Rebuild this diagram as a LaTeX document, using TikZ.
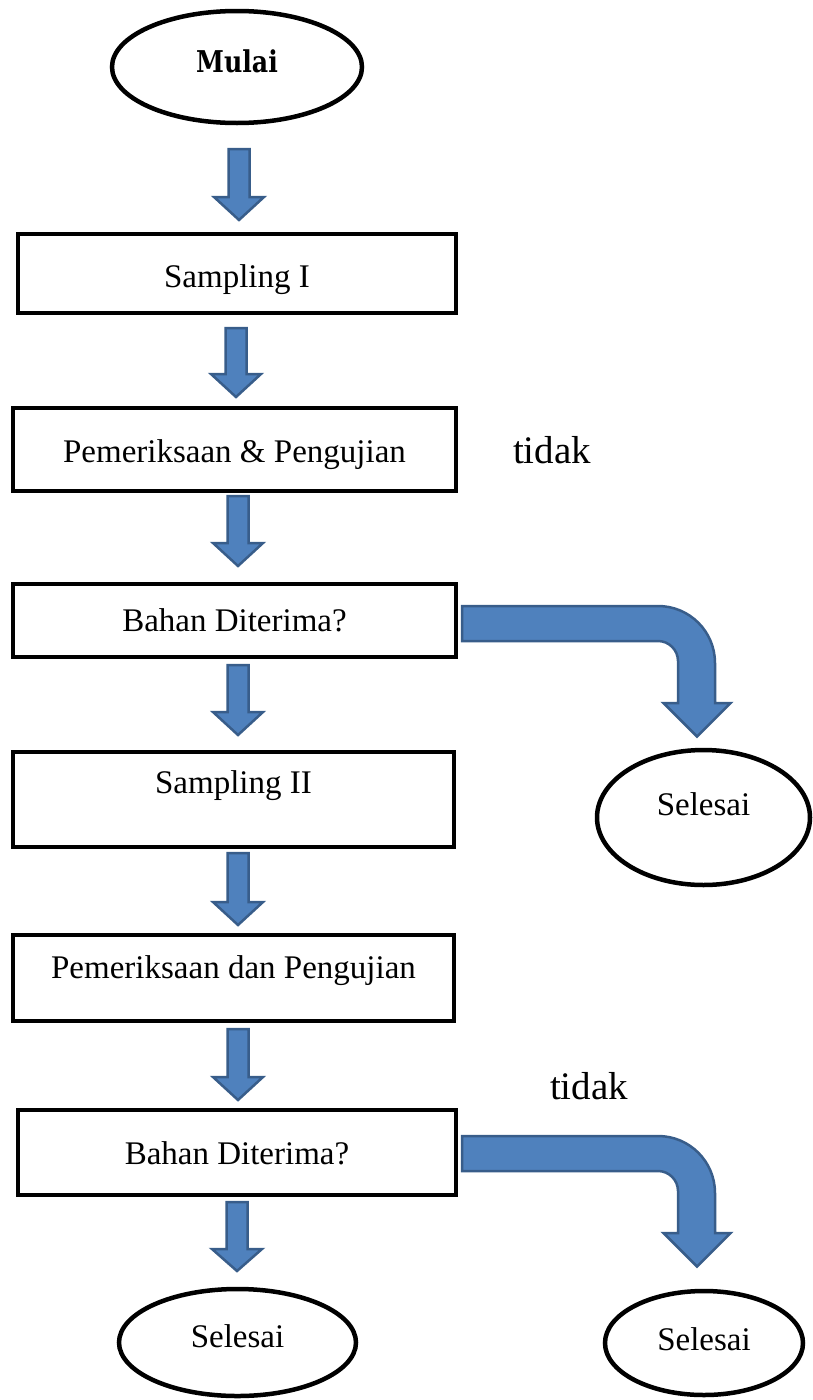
\documentclass[tikz,border=0pt]{standalone}
\usepackage{fontspec}
\setmainfont{Liberation Serif}
\newfontfamily\mulaifont{DejaVu Serif}
\usetikzlibrary{shapes.geometric}
\definecolor{arrfill}{HTML}{4F81BD}
\definecolor{arrline}{HTML}{385D8A}
\tikzset{
  boxnode/.style={draw=black, line width=4pt, rectangle, inner sep=0pt, align=center,
    font=\fontsize{33}{40}\selectfont},
  ellnode/.style={draw=black, line width=4.5pt, ellipse, inner sep=0pt, align=center,
    font=\fontsize{33}{40}\selectfont},
  blockarrow/.style={fill=arrfill, draw=arrline, line width=2.5pt, line join=miter},
  labeltext/.style={inner sep=0pt, anchor=base, font=\fontsize{39}{46}\selectfont}
}
% down block arrow: centre x, shaft top y, head top y, tip y
\newcommand\dnblock[4]{%
  \draw[blockarrow] ({#1-10.5},#2) -- ({#1+10.5},#2) -- ({#1+10.5},#3) -- ({#1+25},#3)
    -- (#1,#4) -- ({#1-25},#3) -- ({#1-10.5},#3) -- cycle;}
% bent block arrow, shifted down by #1
\newcommand\bentblock[1]{%
  \draw[blockarrow] (462,{#1+606}) -- (658,{#1+606})
    .. controls (689.5,{#1+606}) and (715,{#1+631.5}) .. (715,{#1+663})
    -- (715,{#1+703}) -- (730.5,{#1+703}) -- (697,{#1+736.5}) -- (663.5,{#1+703})
    -- (678,{#1+703}) -- (678,{#1+661})
    .. controls (678,{#1+650}) and (669,{#1+641}) .. (658,{#1+641})
    -- (462,{#1+641}) -- cycle;}
\begin{document}
\begin{tikzpicture}[x=1pt,y=-1pt]
\useasboundingbox (0,0) rectangle (812,1400);

% start
\node[ellnode, minimum width=250pt, minimum height=112pt, text height=10pt, text depth=0pt,
  font=\fontsize{30}{36}\selectfont\mulaifont\bfseries] (mulai) at (237,67)
  {\scalebox{0.84}[1]{Mulai}};

% process boxes
\node[boxnode, minimum width=438pt, minimum height=79pt, text height=27pt, text depth=0pt]
  (s1) at (237,273.5) {Sampling I};
\node[boxnode, minimum width=443pt, minimum height=83pt, text height=25pt, text depth=0pt]
  (p1) at (234.5,449.5) {Pemeriksaan \& Pengujian};
\node[boxnode, minimum width=443pt, minimum height=73pt, text height=21pt, text depth=0pt]
  (d1) at (234.5,620.5) {Bahan Diterima?};
\node[boxnode, minimum width=441pt, minimum height=95pt, text height=0pt, text depth=13pt]
  (s2) at (233.5,799.5) {Sampling II};
\node[boxnode, minimum width=441pt, minimum height=86pt, text height=0pt, text depth=0pt]
  (p2) at (233.5,978) {Pemeriksaan dan Pengujian};
\node[boxnode, minimum width=438pt, minimum height=85pt, text height=23pt, text depth=0pt]
  (d2) at (237,1152.5) {Bahan Diterima?};

% end nodes
\node[ellnode, minimum width=213pt, minimum height=135pt, text height=0pt, text depth=5pt]
  (e1) at (703.5,817.5) {Selesai};
\node[ellnode, minimum width=237pt, minimum height=107pt, text height=9pt, text depth=0pt]
  (e2) at (237.5,1342.5) {Selesai};
\node[ellnode, minimum width=198pt, minimum height=104pt, text height=14pt, text depth=0pt]
  (e3) at (704,1343) {Selesai};

% labels
\node[labeltext] (t1) at (552,463) {tidak};
\node[labeltext] (t2) at (589,1099) {tidak};

% block arrows
\dnblock{239}{149}{197}{220}
\dnblock{236}{328}{374}{397}
\dnblock{238}{496}{543}{566}
\dnblock{238}{665}{712}{735}
\dnblock{238}{853}{902}{925}
\dnblock{238}{1029}{1077}{1100}
\dnblock{237}{1202}{1249}{1271}
\bentblock{0}
\bentblock{530}
\end{tikzpicture}
\end{document}
